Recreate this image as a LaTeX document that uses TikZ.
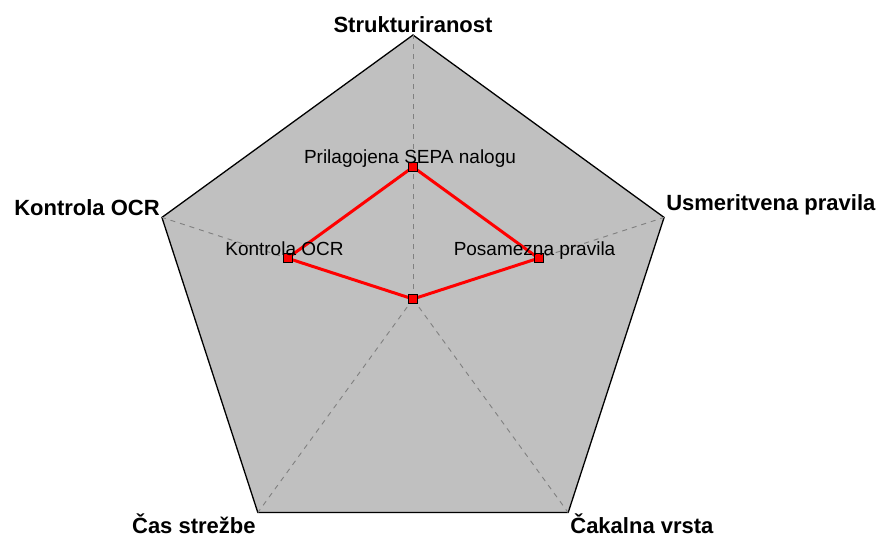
\documentclass[tikz,border=0pt]{standalone}
\usepackage{fontspec}
\setmainfont{Liberation Sans}
\usepackage{tikz}
\usetikzlibrary{calc}
\definecolor{polje}{HTML}{C0C0C0}
\definecolor{osi}{HTML}{808080}
\definecolor{serija}{HTML}{FF0000}

\begin{document}
\begin{tikzpicture}[x=1pt,y=1pt,
    os/.style={draw=osi,line width=0.9pt,dash pattern=on 5pt off 5pt},
    oznaka/.style={font=\bfseries\fontsize{22}{25}\selectfont,inner sep=2pt},
    tocka/.style={draw=black,fill=serija,line width=0.9pt,minimum size=9pt,inner sep=0pt},
    opis/.style={font=\fontsize{19}{22}\selectfont,inner sep=0pt,anchor=base}]
    \useasboundingbox (0,0) rectangle (880,539);
    \coordinate (o) at (413,240);
    % pentagon
    \foreach \a [count=\i] in {90,18,-54,-126,162}
        \coordinate (v\i) at ($(o)+(\a:264)$);
    \draw[fill=polje,line width=1.3pt,line join=miter] (v1) -- (v2) -- (v3) -- (v4) -- (v5) -- cycle;
    \foreach \i in {1,...,5}
        \draw[os] (o) -- (v\i);
    % osi
    \node[oznaka,anchor=south] (a1) at (v1) {Strukturiranost};
    \node[oznaka,anchor=south west] (a2) at (v2) {Usmeritvena pravila};
    \node[oznaka,anchor=north west,inner ysep=1pt] (a3) at (v3) {Čakalna vrsta};
    \node[oznaka,anchor=north east,inner ysep=1pt] (a4) at (v4) {Čas strežbe};
    \node[oznaka,anchor=south east] (a5) at (v5) {Kontrola OCR};
    % podatki
    \foreach \a/\r [count=\i] in {90/0.5,18/0.5,-54/0,-126/0,162/0.5}
        \coordinate (d\i) at ($(o)+(\a:{264*\r})$);
    \draw[serija,line width=3pt,line join=round] (d1) -- (d2) -- (d3) -- (d4) -- (d5) -- cycle;
    \foreach \i in {1,...,5}
        \node[tocka] (p\i) at (d\i) {};
    \node[opis] (l1) at ($(d1)+(-3,3)$) {Prilagojena SEPA nalogu};
    \node[opis] (l2) at ($(d2)+(-4,3)$) {Posamezna pravila};
    \node[opis] (l5) at ($(d5)+(-3,3)$) {Kontrola OCR};
\end{tikzpicture}
\end{document}
